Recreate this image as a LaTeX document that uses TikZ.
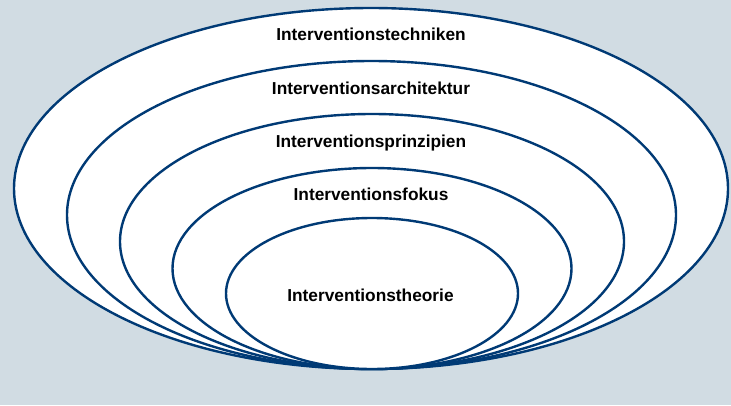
\documentclass[tikz,border=0pt]{standalone}
\usepackage{fontspec}
\setmainfont{Liberation Sans}
\definecolor{bg}{HTML}{D1DCE3}
\definecolor{ring}{HTML}{003A75}
\begin{document}
\begin{tikzpicture}[x=1pt,y=-1pt,
  ring/.style={draw=ring,line width=2.4pt,fill=white},
  lbl/.style={font=\bfseries\fontsize{17.3}{19}\selectfont,text=black,anchor=base,inner sep=0pt}]
\fill[bg] (0,0) rectangle (731,405);
\useasboundingbox (0,0) rectangle (731,405);
\path[ring] (371,188.5) ellipse [x radius=357,y radius=180.5];
\path[ring] (371.5,215) ellipse [x radius=304.5,y radius=154];
\path[ring] (372,241.5) ellipse [x radius=252,y radius=127.5];
\path[ring] (372,268.5) ellipse [x radius=199.5,y radius=100.5];
\path[ring] (372,293.5) ellipse [x radius=146,y radius=75.5];
\node[lbl] (t1) at (371,40.7) {Interventionstechniken};
\node[lbl] (t2) at (371,94.3) {Interventionsarchitektur};
\node[lbl] (t3) at (371,147.3) {Interventionsprinzipien};
\node[lbl] (t4) at (371,200.3) {Interventionsfokus};
\node[lbl] (t5) at (370.5,301) {Interventionstheorie};
\end{tikzpicture}
\end{document}
